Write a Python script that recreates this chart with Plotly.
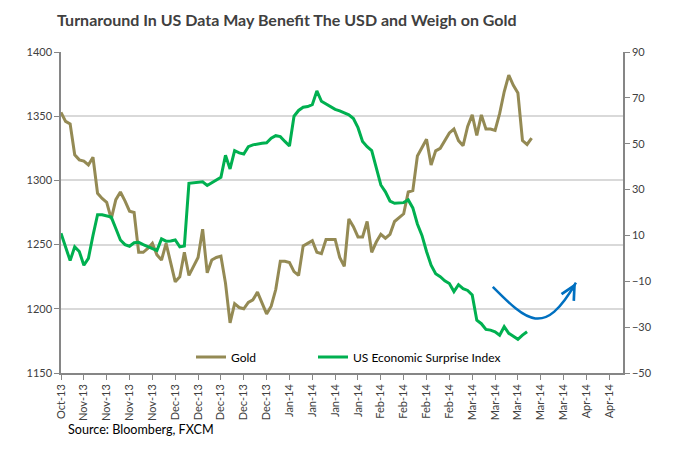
import plotly.graph_objects as go

# ---- data ----
GOLD = [1353, 1346, 1344, 1320, 1316, 1315, 1312, 1318, 1290, 1286,
        1283, 1270, 1285, 1291, 1284, 1276, 1275, 1244, 1244, 1247,
        1251, 1242, 1238, 1251, 1236, 1221, 1225, 1244, 1226, 1233,
        1240, 1262, 1228, 1238, 1240, 1241, 1220, 1189, 1204, 1201,
        1200, 1205, 1207, 1213, 1204, 1196, 1202, 1215, 1237, 1237,
        1236, 1229, 1226, 1249, 1251, 1253, 1244, 1243, 1254, 1254,
        1254, 1240, 1233, 1270, 1264, 1256, 1256, 1268, 1244, 1252,
        1258, 1255, 1258, 1268, 1271, 1274, 1291, 1292, 1319, 1326,
        1332, 1312, 1323, 1325, 1331, 1337, 1340, 1331, 1327, 1342,
        1351, 1335, 1351, 1340, 1340, 1339, 1352, 1369, 1382, 1374,
        1368, 1331, 1328, 1333]

SURPRISE = [11, 5, -1, 5, 3, -3, 0, 10, 19, 19,
            18.5, 18, 13, 8, 6, 5.3, 6.8, 7, 6, 5.2,
            4.5, 3.4, 8.5, 7.5, 7.6, 8, 5, 5.4, 32.7, 32.9,
            33.1, 33.4, 31.8, 33, 34, 35.4, 45, 39, 47, 46,
            45.5, 48.7, 49.5, 50, 50.2, 50.4, 52.4, 53.5, 53.1, 51,
            49, 62, 64.5, 65.9, 66.2, 67, 73, 68.5, 67.4, 66,
            65, 64.3, 63.3, 62.6, 61, 57, 51, 48.7, 47, 39,
            32, 29, 25, 24, 24.1, 24.3, 25.5, 22, 15, 10,
            3, -3, -6.7, -8, -9.8, -11, -14.5, -11.5, -13.2, -14,
            -16, -27, -28.5, -31, -31.3, -32, -33.5, -29.8, -32.7, -34.2,
            -35.3, -33.5, -32]

TICK_LABELS = ["Oct-13", "Nov-13", "Nov-13", "Nov-13", "Nov-13",
               "Dec-13", "Dec-13", "Dec-13", "Dec-13", "Dec-13",
               "Jan-14", "Jan-14", "Jan-14", "Jan-14",
               "Feb-14", "Feb-14", "Feb-14", "Feb-14",
               "Mar-14", "Mar-14", "Mar-14", "Mar-14", "Mar-14",
               "Apr-14", "Apr-14"]
TICK_STEP = 5          # one label every 5 trading days
N_CATEGORIES = 124     # axis runs on to mid-April

# ---- figure ----
gold_x = list(range(len(GOLD)))
surp_x = list(range(len(SURPRISE)))
tickvals = [i * TICK_STEP for i in range(len(TICK_LABELS))]

FONT = "Lato, 'Open Sans', sans-serif"
GOLD_C = "#948A54"
GREEN_C = "#00B050"
AXIS_C = "#868686"
TEXT_C = "#404040"

PL, PR, PT, PB = 61, 57, 52, 81
PW, PH = 680 - PL - PR, 454 - PT - PB

fig = go.Figure()
fig.add_trace(go.Scatter(x=gold_x, y=GOLD, name="Gold", mode="lines",
                         legend="legend",
                         line=dict(color=GOLD_C, width=3)))
fig.add_trace(go.Scatter(x=surp_x, y=SURPRISE, name="US Economic Surprise Index",
                         mode="lines", yaxis="y2", legend="legend2",
                         line=dict(color=GREEN_C, width=3)))

# blue "turnaround" arrow (annotation drawn on the secondary axis)
fig.add_shape(type="path", xref="x", yref="y2",
              path="M 94.5,-12.4 C 101.9,-27.2 105.7,-35.0 112.7,-10.6",
              line=dict(color="#0070C0", width=2.5))
fig.add_annotation(x=112.7, y=-10.6, xref="x", yref="y2", text="",
                   showarrow=True, ax=-5, ay=9, arrowhead=5, arrowsize=1.1,
                   arrowwidth=2.5, arrowcolor="#0070C0")

fig.add_annotation(text="Source: Bloomberg, FXCM", xref="paper", yref="paper",
                   x=(66 - PL) / PW, y=-(430 - (PT + PH)) / PH, xanchor="left",
                   yanchor="middle", showarrow=False,
                   font=dict(family=FONT, size=12.6, color="#000000"))

leg_common = dict(orientation="h", xanchor="left", yanchor="middle",
                  bgcolor="rgba(0,0,0,0)",
                  font=dict(family=FONT, size=12, color="#000000"))

fig.update_layout(
    width=680, height=454,
    margin=dict(l=PL, r=PR, t=PT, b=PB),
    paper_bgcolor="white", plot_bgcolor="white",
    font=dict(family=FONT, size=11, color=TEXT_C),
    title=dict(text="Turnaround In US Data May Benefit The USD and Weigh on Gold",
               x=57 / 680, xanchor="left", y=1 - 20 / 454, yanchor="middle",
               font=dict(family=FONT, size=16, color=TEXT_C, weight="bold")),
    showlegend=True,
    legend=dict(x=(191 - PL) / PW, y=(PT + PH - 357) / PH, **leg_common),
    legend2=dict(x=(313 - PL) / PW, y=(PT + PH - 357) / PH, **leg_common),
    xaxis=dict(range=[0, N_CATEGORIES - 1], tickmode="array", tickvals=tickvals,
               ticktext=TICK_LABELS, tickangle=-90, showgrid=False, zeroline=False,
               showline=True, linecolor=AXIS_C, linewidth=1.5, ticks="outside",
               ticklen=5, tickcolor=AXIS_C, tickfont=dict(size=11, color=TEXT_C)),
    yaxis=dict(range=[1150, 1400], tickmode="linear", tick0=1150, dtick=50,
               showgrid=True, gridcolor="#D9D9D9", gridwidth=1.5, zeroline=False,
               showline=True, linecolor=AXIS_C, linewidth=1.5, ticks="outside",
               ticklen=5, tickcolor=AXIS_C, tickfont=dict(size=11, color=TEXT_C)),
    yaxis2=dict(range=[-50, 90], tickmode="linear", tick0=-50, dtick=20,
                overlaying="y", side="right", showgrid=False, zeroline=False,
                showline=True, linecolor=AXIS_C, linewidth=1.5, ticks="outside",
                ticklen=5, tickcolor=AXIS_C, tickfont=dict(size=11, color=TEXT_C)),
)

fig.write_html("out.html", config={"displayModeBar": False},
               post_script="document.body.style.margin='0';"
                           "document.body.style.overflow='hidden';")
